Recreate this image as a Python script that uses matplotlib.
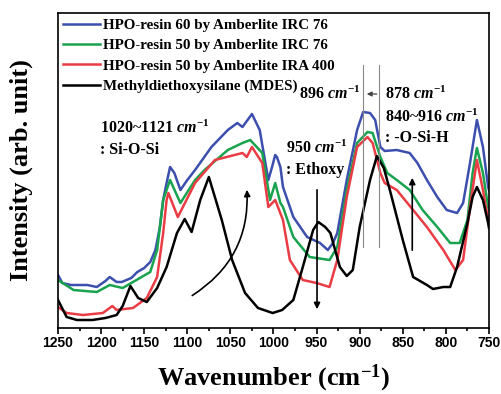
import matplotlib
matplotlib.use('Agg')
import matplotlib.pyplot as plt
from matplotlib.patches import FancyArrowPatch
from matplotlib.ticker import MultipleLocator

plt.rcParams['font.family'] = 'Liberation Serif'
plt.rcParams['mathtext.fontset'] = 'custom'
plt.rcParams['mathtext.rm'] = 'Liberation Serif:bold'
plt.rcParams['mathtext.it'] = 'Liberation Serif:italic:bold'
plt.rcParams['mathtext.bf'] = 'Liberation Serif:bold'

# Espectros (numero de onda, intensidad arbitraria)
w_blue = [1250, 1245, 1235, 1216, 1205, 1195, 1190, 1182, 1176, 1165, 1158, 1150,
          1143, 1137, 1132, 1128, 1125, 1120, 1115, 1108, 1100, 1091, 1072, 1053,
          1042, 1036, 1025, 1016, 1006, 1002, 998, 996, 992, 989, 977, 961, 946,
          937, 931, 926, 915, 903, 896, 888, 882, 876, 871, 857, 842, 833, 822,
          810, 799, 787, 780, 772, 764, 757, 751, 750]
i_blue = [53, 45, 43, 43, 41, 47, 51, 46, 46, 50, 56, 60, 66, 78, 100, 128, 141,
          161, 155, 138, 148, 158, 181, 198, 205, 201, 214, 198, 148, 160, 173, 171,
          161, 141, 111, 91, 85, 78, 85, 95, 148, 198, 216, 215, 208, 181, 177, 178,
          175, 165, 148, 131, 118, 115, 125, 165, 208, 181, 141, 138]

w_green = [1250, 1232, 1205, 1190, 1175, 1155, 1143, 1135, 1128, 1120, 1108, 1091,
           1080, 1053, 1036, 1027, 1013, 1004, 998, 992, 989, 977, 958, 935, 926,
           915, 903, 891, 885, 876, 868, 857, 842, 827, 810, 795, 784, 775, 769,
           764, 757, 751, 750]
i_green = [48, 38, 36, 43, 40, 50, 56, 78, 128, 148, 125, 148, 158, 178, 185, 188,
           175, 128, 145, 125, 121, 91, 71, 68, 81, 138, 185, 196, 195, 171, 155, 148,
           138, 118, 101, 85, 85, 108, 155, 180, 155, 121, 118]

w_red = [1250, 1240, 1221, 1198, 1187, 1182, 1163, 1147, 1135, 1128, 1124, 1122,
         1111, 1091, 1068, 1036, 1031, 1025, 1013, 1006, 998, 989, 981, 966, 950,
         935, 926, 915, 903, 891, 885, 876, 871, 857, 838, 822, 803, 789, 780, 772,
         764, 757, 751, 750]
i_red = [21, 15, 13, 15, 22, 18, 20, 30, 51, 95, 128, 135, 111, 145, 168, 175, 171,
         181, 165, 121, 128, 108, 68, 48, 45, 41, 68, 131, 181, 191, 185, 155, 145,
         138, 118, 101, 78, 58, 68, 121, 168, 138, 108, 105]

w_black = [1250, 1240, 1228, 1210, 1195, 1182, 1175, 1166, 1157, 1147, 1135, 1124,
           1112, 1103, 1095, 1085, 1075, 1060, 1048, 1033, 1018, 1001, 990, 977, 966,
           954, 948, 940, 934, 923, 915, 908, 900, 888, 880, 872, 865, 850, 838, 822,
           815, 803, 795, 787, 775, 769, 764, 757, 751, 750]
i_black = [28, 11, 8, 8, 10, 13, 22, 42, 30, 26, 40, 61, 95, 109, 96, 128, 151, 108,
           68, 35, 20, 15, 18, 28, 61, 98, 106, 101, 95, 61, 52, 58, 101, 148, 172,
           160, 138, 88, 51, 43, 39, 41, 41, 61, 105, 131, 141, 128, 105, 100]

etiquetas = ['HPO-resin 60 by Amberlite IRC 76',
             'HPO-resin 50 by Amberlite IRC 76',
             'HPO-resin 50 by Amberlite IRA 400',
             'Methyldiethoxysilane (MDES)']
colores = ['#3d4fae', '#1aa34f', '#ea3c44', 'black']

fig = plt.figure(figsize=(5.01, 3.94), dpi=100)
ax = fig.add_axes([0.1158, 0.1675, 0.8602, 0.7995])

ax.plot(w_blue, i_blue, color=colores[0], lw=1.8, label=etiquetas[0])
ax.plot(w_green, i_green, color=colores[1], lw=1.8, label=etiquetas[1])
ax.plot(w_red, i_red, color=colores[2], lw=1.8, label=etiquetas[2])
ax.plot(w_black, i_black, color=colores[3], lw=1.8, label=etiquetas[3])

ax.set_xlim(1250, 750)
ax.set_ylim(0, 315)
ax.set_yticks([])
ax.xaxis.set_major_locator(MultipleLocator(50))
ax.xaxis.set_minor_locator(MultipleLocator(25))
ax.tick_params(axis='x', which='major', length=4, width=1.2, direction='out', pad=2)
ax.tick_params(axis='x', which='minor', length=2.5, width=1.2, direction='out')
for lab in ax.get_xticklabels():
    lab.set_fontfamily('Liberation Sans')
    lab.set_fontweight('bold')
    lab.set_fontsize(10)
for sp in ax.spines.values():
    sp.set_linewidth(1.2)

ax.set_xlabel('Wavenumber (cm$^{\\mathbf{-1}}$)', fontsize=19, fontweight='bold', labelpad=9)
ax.set_ylabel('Intensity (arb. unit)', fontsize=19, fontweight='bold', labelpad=18)

ax.legend(loc='upper left', frameon=False, prop={'weight': 'bold', 'size': 10.8},
          handlelength=2.45, handletextpad=0.2, labelspacing=0.46,
          borderaxespad=0.1, borderpad=0.25)

# Lineas guia 896 y 878
for x0 in (896, 878):
    ax.plot([x0, x0], [81, 263], color='#8a8a8a', lw=0.8)
ax.annotate('', xy=(895, 234), xytext=(877, 234),
            arrowprops=dict(arrowstyle='-|>', color='#444444', lw=0.9, mutation_scale=7))

fs = 11.5
ax.text(1201, 200, r'1020~1121 $cm^{-1}$', fontsize=fs, fontweight='bold', va='center')
ax.text(1201, 178, ': Si-O-Si', fontsize=fs, fontweight='bold', va='center')
ax.text(985, 180, r'950 $cm^{-1}$', fontsize=fs, fontweight='bold', va='center')
ax.text(985, 158, ': Ethoxy', fontsize=fs, fontweight='bold', va='center')
ax.text(898.5, 234, r'896 $cm^{-1}$', fontsize=fs, fontweight='bold', va='center', ha='right')
ax.text(870.5, 234, r'878 $cm^{-1}$', fontsize=fs, fontweight='bold', va='center')
ax.text(870.5, 211, r'840~916 $cm^{-1}$', fontsize=fs, fontweight='bold', va='center')
ax.text(870.5, 190, ': -O-Si-H', fontsize=fs, fontweight='bold', va='center')

# Flechas
ax.add_patch(FancyArrowPatch((1097, 31), (1031, 141), connectionstyle='arc3,rad=0.3',
                             arrowstyle='-|>', mutation_scale=9, color='black', lw=1.2))
ax.annotate('', xy=(949.5, 16), xytext=(949.5, 141),
            arrowprops=dict(arrowstyle='-|>', color='black', lw=1.2, mutation_scale=9))
ax.annotate('', xy=(839, 153), xytext=(839, 75),
            arrowprops=dict(arrowstyle='-|>', color='black', lw=1.2, mutation_scale=9))

fig.savefig('out.png', dpi=100)
